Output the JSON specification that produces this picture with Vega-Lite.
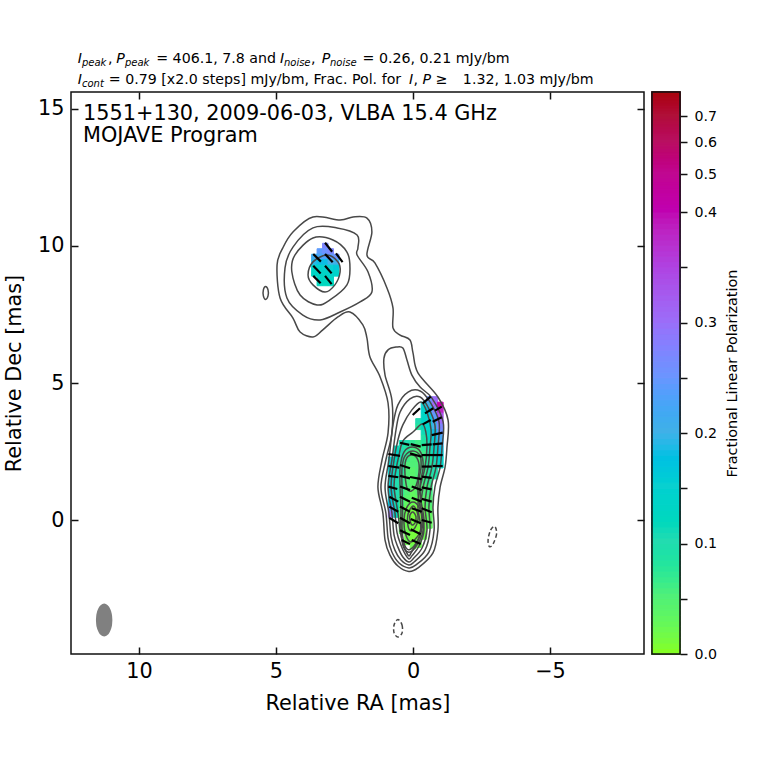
{
"$schema":"https://vega.github.io/schema/vega-lite/v6.json",
"padding":{"left":2,"top":51,"right":0,"bottom":0},
"background":"white",
"config":{"font":"DejaVu Sans","view":{"stroke":"#111","strokeWidth":1.5},"axis":{"labelFont":"DejaVu Sans","titleFont":"DejaVu Sans","grid":false,"domain":false,"labelColor":"#000","titleColor":"#000"}},
"datasets":{
"contours":[
{"k":"a1","i":0,"ra":0.47,"dec":6.75},{"k":"a1","i":1,"ra":0.11,"dec":6.57},{"k":"a1","i":2,"ra":0,"dec":6.10},{"k":"a1","i":3,"ra":-0.18,"dec":5.37},{"k":"a1","i":4,"ra":-0.91,"dec":4.49},{"k":"a1","i":5,"ra":-1.28,"dec":3.65},{"k":"a1","i":6,"ra":-1.24,"dec":2.66},{"k":"a1","i":7,"ra":-1.17,"dec":1.93},{"k":"a1","i":8,"ra":-0.99,"dec":1.20},{"k":"a1","i":9,"ra":-0.91,"dec":0.47},{"k":"a1","i":10,"ra":-0.91,"dec":-0.37},{"k":"a1","i":11,"ra":-0.73,"dec":-1.20},{"k":"a1","i":12,"ra":-0.18,"dec":-1.75},{"k":"a1","i":13,"ra":0.15,"dec":-1.88},{"k":"a1","i":14,"ra":0.55,"dec":-1.68},{"k":"a1","i":15,"ra":0.84,"dec":-1.28},{"k":"a1","i":16,"ra":1.02,"dec":-0.73},{"k":"a1","i":17,"ra":1.10,"dec":0.26},{"k":"a1","i":18,"ra":1.28,"dec":1.20},{"k":"a1","i":19,"ra":1.13,"dec":2.19},{"k":"a1","i":20,"ra":0.91,"dec":3.18},{"k":"a1","i":21,"ra":0.91,"dec":4.27},{"k":"a1","i":22,"ra":1.20,"dec":5.22},{"k":"a1","i":23,"ra":1.57,"dec":5.95},{"k":"a1","i":24,"ra":1.68,"dec":6.64},{"k":"a1","i":25,"ra":1.83,"dec":7.12},{"k":"a1","i":26,"ra":2.30,"dec":7.59},{"k":"a1","i":27,"ra":2.74,"dec":7.41},{"k":"a1","i":28,"ra":3.29,"dec":6.94},{"k":"a1","i":29,"ra":3.65,"dec":6.68},{"k":"a1","i":30,"ra":4.12,"dec":6.86},{"k":"a1","i":31,"ra":4.38,"dec":7.37},{"k":"a1","i":32,"ra":4.85,"dec":8.10},{"k":"a1","i":33,"ra":4.96,"dec":9.31},{"k":"a1","i":34,"ra":4.75,"dec":9.93},{"k":"a1","i":35,"ra":4.38,"dec":10.51},{"k":"a1","i":36,"ra":3.65,"dec":11.06},{"k":"a1","i":37,"ra":2.66,"dec":10.95},{"k":"a1","i":38,"ra":2.19,"dec":11.06},{"k":"a1","i":39,"ra":1.68,"dec":11.02},{"k":"a1","i":40,"ra":1.50,"dec":10.51},{"k":"a1","i":41,"ra":1.68,"dec":9.67},{"k":"a1","i":42,"ra":1.39,"dec":9.38},{"k":"a1","i":43,"ra":0.95,"dec":8.47},{"k":"a1","i":44,"ra":0.73,"dec":7.74},{"k":"a1","i":45,"ra":0.73,"dec":7.01},
{"k":"b2","i":0,"ra":3.39,"dec":7.30},{"k":"b2","i":1,"ra":4.02,"dec":7.48},{"k":"b2","i":2,"ra":4.60,"dec":8.10},{"k":"b2","i":3,"ra":4.67,"dec":9.20},{"k":"b2","i":4,"ra":4.38,"dec":9.96},{"k":"b2","i":5,"ra":3.65,"dec":10.66},{"k":"b2","i":6,"ra":2.77,"dec":10.66},{"k":"b2","i":7,"ra":2.04,"dec":10.40},{"k":"b2","i":8,"ra":2.01,"dec":9.93},{"k":"b2","i":9,"ra":2.04,"dec":9.67},{"k":"b2","i":10,"ra":1.64,"dec":9.05},{"k":"b2","i":11,"ra":1.50,"dec":8.32},{"k":"b2","i":12,"ra":1.93,"dec":7.96},{"k":"b2","i":13,"ra":2.66,"dec":7.59},
{"k":"b3","i":0,"ra":4.42,"dec":9.05},{"k":"b3","i":1,"ra":4.31,"dec":9.67},{"k":"b3","i":2,"ra":3.65,"dec":10.29},{"k":"b3","i":3,"ra":2.92,"dec":10.22},{"k":"b3","i":4,"ra":2.41,"dec":9.78},{"k":"b3","i":5,"ra":2.30,"dec":9.20},{"k":"b3","i":6,"ra":2.41,"dec":8.58},{"k":"b3","i":7,"ra":3.03,"dec":8.03},{"k":"b3","i":8,"ra":3.50,"dec":7.85},{"k":"b3","i":9,"ra":4.12,"dec":8.21},
{"k":"b4","i":0,"ra":3.83,"dec":8.94},{"k":"b4","i":1,"ra":3.65,"dec":9.42},{"k":"b4","i":2,"ra":3.14,"dec":9.67},{"k":"b4","i":3,"ra":2.74,"dec":9.42},{"k":"b4","i":4,"ra":2.66,"dec":9.05},{"k":"b4","i":5,"ra":2.85,"dec":8.58},{"k":"b4","i":6,"ra":3.21,"dec":8.32},{"k":"b4","i":7,"ra":3.65,"dec":8.58},
{"k":"is","i":0,"ra":5.38,"dec":8.52},{"k":"is","i":1,"ra":5.29,"dec":8.40},{"k":"is","i":2,"ra":5.29,"dec":8.18},{"k":"is","i":3,"ra":5.38,"dec":8.05},{"k":"is","i":4,"ra":5.46,"dec":8.18},{"k":"is","i":5,"ra":5.46,"dec":8.40},
{"k":"j2","i":0,"ra":0.62,"dec":6.31},{"k":"j2","i":1,"ra":0.37,"dec":6.28},{"k":"j2","i":2,"ra":0.22,"dec":5.84},{"k":"j2","i":3,"ra":0.04,"dec":5.29},{"k":"j2","i":4,"ra":-0.26,"dec":4.85},{"k":"j2","i":5,"ra":-0.69,"dec":4.45},{"k":"j2","i":6,"ra":-1.10,"dec":3.58},{"k":"j2","i":7,"ra":-1.06,"dec":2.66},{"k":"j2","i":8,"ra":-0.99,"dec":1.93},{"k":"j2","i":9,"ra":-0.80,"dec":1.20},{"k":"j2","i":10,"ra":-0.73,"dec":0.47},{"k":"j2","i":11,"ra":-0.77,"dec":-0.37},{"k":"j2","i":12,"ra":-0.58,"dec":-1.17},{"k":"j2","i":13,"ra":-0.11,"dec":-1.64},{"k":"j2","i":14,"ra":0.15,"dec":-1.75},{"k":"j2","i":15,"ra":0.51,"dec":-1.57},{"k":"j2","i":16,"ra":0.77,"dec":-1.17},{"k":"j2","i":17,"ra":0.91,"dec":-0.66},{"k":"j2","i":18,"ra":0.99,"dec":0.26},{"k":"j2","i":19,"ra":1.17,"dec":1.20},{"k":"j2","i":20,"ra":0.99,"dec":2.19},{"k":"j2","i":21,"ra":0.77,"dec":3.18},{"k":"j2","i":22,"ra":0.77,"dec":4.38},{"k":"j2","i":23,"ra":1.02,"dec":5.29},{"k":"j2","i":24,"ra":1.06,"dec":5.91},{"k":"j2","i":25,"ra":0.91,"dec":6.21},
{"k":"j3","i":0,"ra":0.73,"dec":3.47},{"k":"j3","i":1,"ra":0.55,"dec":4.20},{"k":"j3","i":2,"ra":0.18,"dec":4.67},{"k":"j3","i":3,"ra":-0.26,"dec":4.71},{"k":"j3","i":4,"ra":-0.62,"dec":4.31},{"k":"j3","i":5,"ra":-0.95,"dec":3.58},{"k":"j3","i":6,"ra":-0.91,"dec":2.66},{"k":"j3","i":7,"ra":-0.84,"dec":1.93},{"k":"j3","i":8,"ra":-0.66,"dec":1.20},{"k":"j3","i":9,"ra":-0.58,"dec":0.47},{"k":"j3","i":10,"ra":-0.62,"dec":-0.37},{"k":"j3","i":11,"ra":-0.44,"dec":-1.10},{"k":"j3","i":12,"ra":-0.04,"dec":-1.53},{"k":"j3","i":13,"ra":0.15,"dec":-1.64},{"k":"j3","i":14,"ra":0.44,"dec":-1.46},{"k":"j3","i":15,"ra":0.66,"dec":-1.10},{"k":"j3","i":16,"ra":0.80,"dec":-0.62},{"k":"j3","i":17,"ra":0.88,"dec":0.26},{"k":"j3","i":18,"ra":1.02,"dec":1.20},{"k":"j3","i":19,"ra":0.88,"dec":2.19},
{"k":"j4","i":0,"ra":0.62,"dec":3.29},{"k":"j4","i":1,"ra":0.47,"dec":3.94},{"k":"j4","i":2,"ra":0.11,"dec":4.42},{"k":"j4","i":3,"ra":-0.26,"dec":4.49},{"k":"j4","i":4,"ra":-0.55,"dec":4.12},{"k":"j4","i":5,"ra":-0.80,"dec":3.47},{"k":"j4","i":6,"ra":-0.77,"dec":2.66},{"k":"j4","i":7,"ra":-0.69,"dec":1.93},{"k":"j4","i":8,"ra":-0.51,"dec":1.20},{"k":"j4","i":9,"ra":-0.44,"dec":0.47},{"k":"j4","i":10,"ra":-0.51,"dec":-0.37},{"k":"j4","i":11,"ra":-0.33,"dec":-1.02},{"k":"j4","i":12,"ra":0,"dec":-1.42},{"k":"j4","i":13,"ra":0.15,"dec":-1.53},{"k":"j4","i":14,"ra":0.37,"dec":-1.35},{"k":"j4","i":15,"ra":0.55,"dec":-0.99},{"k":"j4","i":16,"ra":0.69,"dec":-0.55},{"k":"j4","i":17,"ra":0.77,"dec":0.26},{"k":"j4","i":18,"ra":0.91,"dec":1.20},{"k":"j4","i":19,"ra":0.77,"dec":2.19},
{"k":"j5","i":0,"ra":0.55,"dec":2.92},{"k":"j5","i":1,"ra":0.37,"dec":3.47},{"k":"j5","i":2,"ra":0.04,"dec":4.02},{"k":"j5","i":3,"ra":-0.29,"dec":4.31},{"k":"j5","i":4,"ra":-0.51,"dec":3.94},{"k":"j5","i":5,"ra":-0.66,"dec":3.29},{"k":"j5","i":6,"ra":-0.62,"dec":2.66},{"k":"j5","i":7,"ra":-0.55,"dec":1.93},{"k":"j5","i":8,"ra":-0.37,"dec":1.20},{"k":"j5","i":9,"ra":-0.29,"dec":0.47},{"k":"j5","i":10,"ra":-0.40,"dec":-0.37},{"k":"j5","i":11,"ra":-0.22,"dec":-0.95},{"k":"j5","i":12,"ra":0.04,"dec":-1.31},{"k":"j5","i":13,"ra":0.15,"dec":-1.42},{"k":"j5","i":14,"ra":0.29,"dec":-1.24},{"k":"j5","i":15,"ra":0.44,"dec":-0.91},{"k":"j5","i":16,"ra":0.58,"dec":-0.47},{"k":"j5","i":17,"ra":0.66,"dec":0.26},{"k":"j5","i":18,"ra":0.80,"dec":1.20},{"k":"j5","i":19,"ra":0.69,"dec":2.19},
{"k":"j6","i":0,"ra":0.51,"dec":2.37},{"k":"j6","i":1,"ra":0.37,"dec":2.88},{"k":"j6","i":2,"ra":0,"dec":3.21},{"k":"j6","i":3,"ra":-0.33,"dec":3.50},{"k":"j6","i":4,"ra":-0.47,"dec":3.21},{"k":"j6","i":5,"ra":-0.51,"dec":2.66},{"k":"j6","i":6,"ra":-0.44,"dec":1.93},{"k":"j6","i":7,"ra":-0.26,"dec":1.20},{"k":"j6","i":8,"ra":-0.18,"dec":0.47},{"k":"j6","i":9,"ra":-0.29,"dec":-0.37},{"k":"j6","i":10,"ra":-0.11,"dec":-0.88},{"k":"j6","i":11,"ra":0.07,"dec":-1.20},{"k":"j6","i":12,"ra":0.15,"dec":-1.31},{"k":"j6","i":13,"ra":0.26,"dec":-1.13},{"k":"j6","i":14,"ra":0.37,"dec":-0.84},{"k":"j6","i":15,"ra":0.47,"dec":-0.40},{"k":"j6","i":16,"ra":0.55,"dec":0.26},{"k":"j6","i":17,"ra":0.69,"dec":1.20},{"k":"j6","i":18,"ra":0.62,"dec":1.83},
{"k":"j7","i":0,"ra":0,"dec":2.66},{"k":"j7","i":1,"ra":-0.29,"dec":2.45},{"k":"j7","i":2,"ra":-0.37,"dec":1.93},{"k":"j7","i":3,"ra":-0.26,"dec":1.28},{"k":"j7","i":4,"ra":-0.29,"dec":0.73},{"k":"j7","i":5,"ra":-0.40,"dec":0},{"k":"j7","i":6,"ra":-0.33,"dec":-0.55},{"k":"j7","i":7,"ra":-0.07,"dec":-1.02},{"k":"j7","i":8,"ra":0.18,"dec":-1.17},{"k":"j7","i":9,"ra":0.37,"dec":-0.91},{"k":"j7","i":10,"ra":0.44,"dec":-0.29},{"k":"j7","i":11,"ra":0.44,"dec":0.37},{"k":"j7","i":12,"ra":0.47,"dec":1.17},{"k":"j7","i":13,"ra":0.47,"dec":1.90},{"k":"j7","i":14,"ra":0.33,"dec":2.48},
{"k":"j7b","i":0,"ra":0,"dec":2.52},{"k":"j7b","i":1,"ra":-0.26,"dec":2.34},{"k":"j7b","i":2,"ra":-0.29,"dec":1.90},{"k":"j7b","i":3,"ra":-0.18,"dec":1.24},{"k":"j7b","i":4,"ra":-0.22,"dec":0.66},{"k":"j7b","i":5,"ra":-0.37,"dec":0},{"k":"j7b","i":6,"ra":-0.26,"dec":-0.55},{"k":"j7b","i":7,"ra":-0.04,"dec":-0.95},{"k":"j7b","i":8,"ra":0.18,"dec":-1.08},{"k":"j7b","i":9,"ra":0.33,"dec":-0.84},{"k":"j7b","i":10,"ra":0.40,"dec":-0.29},{"k":"j7b","i":11,"ra":0.38,"dec":0.37},{"k":"j7b","i":12,"ra":0.40,"dec":1.17},{"k":"j7b","i":13,"ra":0.40,"dec":1.90},{"k":"j7b","i":14,"ra":0.29,"dec":2.34},
{"k":"j8","i":0,"ra":0,"dec":0.66},{"k":"j8","i":1,"ra":-0.22,"dec":0.47},{"k":"j8","i":2,"ra":-0.33,"dec":0},{"k":"j8","i":3,"ra":-0.22,"dec":-0.51},{"k":"j8","i":4,"ra":0.07,"dec":-0.80},{"k":"j8","i":5,"ra":0.26,"dec":-0.55},{"k":"j8","i":6,"ra":0.33,"dec":0},{"k":"j8","i":7,"ra":0.22,"dec":0.47},
{"k":"j8b","i":0,"ra":0.04,"dec":2.37},{"k":"j8b","i":1,"ra":-0.18,"dec":2.19},{"k":"j8b","i":2,"ra":-0.22,"dec":1.75},{"k":"j8b","i":3,"ra":-0.07,"dec":1.17},{"k":"j8b","i":4,"ra":0.18,"dec":1.09},{"k":"j8b","i":5,"ra":0.29,"dec":1.64},{"k":"j8b","i":6,"ra":0.26,"dec":2.19},
{"k":"j9","i":0,"ra":0,"dec":0.51},{"k":"j9","i":1,"ra":-0.15,"dec":0.29},{"k":"j9","i":2,"ra":-0.18,"dec":0},{"k":"j9","i":3,"ra":-0.07,"dec":-0.29},{"k":"j9","i":4,"ra":0.07,"dec":-0.40},{"k":"j9","i":5,"ra":0.18,"dec":-0.22},{"k":"j9","i":6,"ra":0.18,"dec":0.22},
{"k":"j10","i":0,"ra":0,"dec":0.29},{"k":"j10","i":1,"ra":-0.11,"dec":0.11},{"k":"j10","i":2,"ra":-0.07,"dec":-0.11},{"k":"j10","i":3,"ra":0.04,"dec":-0.18},{"k":"j10","i":4,"ra":0.11,"dec":0},{"k":"j10","i":5,"ra":0.11,"dec":0.18}
],
"negative":[
{"k":"n1","i":0,"ra":-2.99,"dec":-0.24},{"k":"n1","i":1,"ra":-3.05,"dec":-0.51},{"k":"n1","i":2,"ra":-2.92,"dec":-0.88},{"k":"n1","i":3,"ra":-2.79,"dec":-0.97},{"k":"n1","i":4,"ra":-2.74,"dec":-0.73},{"k":"n1","i":5,"ra":-2.83,"dec":-0.37},
{"k":"n2","i":0,"ra":0.55,"dec":-3.63},{"k":"n2","i":1,"ra":0.40,"dec":-3.83},{"k":"n2","i":2,"ra":0.40,"dec":-4.12},{"k":"n2","i":3,"ra":0.55,"dec":-4.27},{"k":"n2","i":4,"ra":0.69,"dec":-4.12},{"k":"n2","i":5,"ra":0.69,"dec":-3.83}
],
"cells":[
{"ra":-0.5,"ra2":-0.7,"dec":4.5,"dec2":4.3,"f":0.25},{"ra":-0.7,"ra2":-0.9,"dec":4.5,"dec2":4.3,"f":0.30},
{"ra":-0.3,"ra2":-0.5,"dec":4.3,"dec2":4.1,"f":0.15},{"ra":-0.5,"ra2":-0.7,"dec":4.3,"dec2":4.1,"f":0.20},{"ra":-0.7,"ra2":-0.9,"dec":4.3,"dec2":4.1,"f":0.30},{"ra":-0.9,"ra2":-1.1,"dec":4.3,"dec2":4.1,"f":0.42},
{"ra":-0.3,"ra2":-0.5,"dec":4.1,"dec2":3.9,"f":0.14},{"ra":-0.5,"ra2":-0.7,"dec":4.1,"dec2":3.9,"f":0.18},{"ra":-0.7,"ra2":-0.9,"dec":4.1,"dec2":3.9,"f":0.27},{"ra":-0.9,"ra2":-1.1,"dec":4.1,"dec2":3.9,"f":0.38},
{"ra":-0.3,"ra2":-0.5,"dec":3.9,"dec2":3.7,"f":0.13},{"ra":-0.5,"ra2":-0.7,"dec":3.9,"dec2":3.7,"f":0.16},{"ra":-0.7,"ra2":-0.9,"dec":3.9,"dec2":3.7,"f":0.24},{"ra":-0.9,"ra2":-1.1,"dec":3.9,"dec2":3.7,"f":0.33},
{"ra":-0.1,"ra2":-0.3,"dec":3.7,"dec2":3.5,"f":0.10},{"ra":-0.3,"ra2":-0.5,"dec":3.7,"dec2":3.5,"f":0.13},{"ra":-0.5,"ra2":-0.7,"dec":3.7,"dec2":3.5,"f":0.15},{"ra":-0.7,"ra2":-0.9,"dec":3.7,"dec2":3.5,"f":0.22},{"ra":-0.9,"ra2":-1.1,"dec":3.7,"dec2":3.5,"f":0.30},
{"ra":-0.1,"ra2":-0.3,"dec":3.5,"dec2":3.3,"f":0.08},{"ra":-0.3,"ra2":-0.5,"dec":3.5,"dec2":3.3,"f":0.12},{"ra":-0.5,"ra2":-0.7,"dec":3.5,"dec2":3.3,"f":0.14},{"ra":-0.7,"ra2":-0.9,"dec":3.5,"dec2":3.3,"f":0.20},{"ra":-0.9,"ra2":-1.1,"dec":3.5,"dec2":3.3,"f":0.27},
{"ra":-0.3,"ra2":-0.5,"dec":3.3,"dec2":3.1,"f":0.11},{"ra":-0.5,"ra2":-0.7,"dec":3.3,"dec2":3.1,"f":0.13},{"ra":-0.7,"ra2":-0.9,"dec":3.3,"dec2":3.1,"f":0.18},{"ra":-0.9,"ra2":-1.1,"dec":3.3,"dec2":3.1,"f":0.25},
{"ra":-0.3,"ra2":-0.5,"dec":3.1,"dec2":2.9,"f":0.09},{"ra":-0.5,"ra2":-0.7,"dec":3.1,"dec2":2.9,"f":0.12},{"ra":-0.7,"ra2":-0.9,"dec":3.1,"dec2":2.9,"f":0.16},{"ra":-0.9,"ra2":-1.1,"dec":3.1,"dec2":2.9,"f":0.22},
{"ra":0.5,"ra2":0.3,"dec":2.9,"dec2":2.7,"f":0.11},{"ra":0.3,"ra2":0.1,"dec":2.9,"dec2":2.7,"f":0.10},{"ra":0.1,"ra2":-0.1,"dec":2.9,"dec2":2.7,"f":0.07},{"ra":-0.1,"ra2":-0.3,"dec":2.9,"dec2":2.7,"f":0.06},{"ra":-0.3,"ra2":-0.5,"dec":2.9,"dec2":2.7,"f":0.08},{"ra":-0.5,"ra2":-0.7,"dec":2.9,"dec2":2.7,"f":0.11},{"ra":-0.7,"ra2":-0.9,"dec":2.9,"dec2":2.7,"f":0.15},{"ra":-0.9,"ra2":-1.1,"dec":2.9,"dec2":2.7,"f":0.20},
{"ra":0.7,"ra2":0.5,"dec":2.7,"dec2":2.5,"f":0.12},{"ra":0.5,"ra2":0.3,"dec":2.7,"dec2":2.5,"f":0.10},{"ra":0.3,"ra2":0.1,"dec":2.7,"dec2":2.5,"f":0.08},{"ra":0.1,"ra2":-0.1,"dec":2.7,"dec2":2.5,"f":0.06},{"ra":-0.1,"ra2":-0.3,"dec":2.7,"dec2":2.5,"f":0.05},{"ra":-0.3,"ra2":-0.5,"dec":2.7,"dec2":2.5,"f":0.07},{"ra":-0.5,"ra2":-0.7,"dec":2.7,"dec2":2.5,"f":0.10},{"ra":-0.7,"ra2":-0.9,"dec":2.7,"dec2":2.5,"f":0.13},{"ra":-0.9,"ra2":-1.1,"dec":2.7,"dec2":2.5,"f":0.18},
{"ra":0.7,"ra2":0.5,"dec":2.5,"dec2":2.3,"f":0.13},{"ra":0.5,"ra2":0.3,"dec":2.5,"dec2":2.3,"f":0.10},{"ra":0.3,"ra2":0.1,"dec":2.5,"dec2":2.3,"f":0.07},{"ra":0.1,"ra2":-0.1,"dec":2.5,"dec2":2.3,"f":0.05},{"ra":-0.1,"ra2":-0.3,"dec":2.5,"dec2":2.3,"f":0.05},{"ra":-0.3,"ra2":-0.5,"dec":2.5,"dec2":2.3,"f":0.06},{"ra":-0.5,"ra2":-0.7,"dec":2.5,"dec2":2.3,"f":0.09},{"ra":-0.7,"ra2":-0.9,"dec":2.5,"dec2":2.3,"f":0.12},{"ra":-0.9,"ra2":-1.1,"dec":2.5,"dec2":2.3,"f":0.16},
{"ra":0.9,"ra2":0.7,"dec":2.3,"dec2":2.1,"f":0.15},{"ra":0.7,"ra2":0.5,"dec":2.3,"dec2":2.1,"f":0.12},{"ra":0.5,"ra2":0.3,"dec":2.3,"dec2":2.1,"f":0.09},{"ra":0.3,"ra2":0.1,"dec":2.3,"dec2":2.1,"f":0.06},{"ra":0.1,"ra2":-0.1,"dec":2.3,"dec2":2.1,"f":0.05},{"ra":-0.1,"ra2":-0.3,"dec":2.3,"dec2":2.1,"f":0.05},{"ra":-0.3,"ra2":-0.5,"dec":2.3,"dec2":2.1,"f":0.06},{"ra":-0.5,"ra2":-0.7,"dec":2.3,"dec2":2.1,"f":0.08},{"ra":-0.7,"ra2":-0.9,"dec":2.3,"dec2":2.1,"f":0.11},{"ra":-0.9,"ra2":-1.1,"dec":2.3,"dec2":2.1,"f":0.14},
{"ra":0.9,"ra2":0.7,"dec":2.1,"dec2":1.9,"f":0.15},{"ra":0.7,"ra2":0.5,"dec":2.1,"dec2":1.9,"f":0.11},{"ra":0.5,"ra2":0.3,"dec":2.1,"dec2":1.9,"f":0.08},{"ra":0.3,"ra2":0.1,"dec":2.1,"dec2":1.9,"f":0.05},{"ra":0.1,"ra2":-0.1,"dec":2.1,"dec2":1.9,"f":0.05},{"ra":-0.1,"ra2":-0.3,"dec":2.1,"dec2":1.9,"f":0.05},{"ra":-0.3,"ra2":-0.5,"dec":2.1,"dec2":1.9,"f":0.06},{"ra":-0.5,"ra2":-0.7,"dec":2.1,"dec2":1.9,"f":0.08},{"ra":-0.7,"ra2":-0.9,"dec":2.1,"dec2":1.9,"f":0.10},{"ra":-0.9,"ra2":-1.1,"dec":2.1,"dec2":1.9,"f":0.13},
{"ra":0.9,"ra2":0.7,"dec":1.9,"dec2":1.7,"f":0.15},{"ra":0.7,"ra2":0.5,"dec":1.9,"dec2":1.7,"f":0.11},{"ra":0.5,"ra2":0.3,"dec":1.9,"dec2":1.7,"f":0.08},{"ra":0.3,"ra2":0.1,"dec":1.9,"dec2":1.7,"f":0.05},{"ra":0.1,"ra2":-0.1,"dec":1.9,"dec2":1.7,"f":0.04},{"ra":-0.1,"ra2":-0.3,"dec":1.9,"dec2":1.7,"f":0.05},{"ra":-0.3,"ra2":-0.5,"dec":1.9,"dec2":1.7,"f":0.06},{"ra":-0.5,"ra2":-0.7,"dec":1.9,"dec2":1.7,"f":0.08},{"ra":-0.7,"ra2":-0.9,"dec":1.9,"dec2":1.7,"f":0.10},
{"ra":0.9,"ra2":0.7,"dec":1.7,"dec2":1.5,"f":0.15},{"ra":0.7,"ra2":0.5,"dec":1.7,"dec2":1.5,"f":0.11},{"ra":0.5,"ra2":0.3,"dec":1.7,"dec2":1.5,"f":0.07},{"ra":0.3,"ra2":0.1,"dec":1.7,"dec2":1.5,"f":0.05},{"ra":0.1,"ra2":-0.1,"dec":1.7,"dec2":1.5,"f":0.04},{"ra":-0.1,"ra2":-0.3,"dec":1.7,"dec2":1.5,"f":0.05},{"ra":-0.3,"ra2":-0.5,"dec":1.7,"dec2":1.5,"f":0.06},{"ra":-0.5,"ra2":-0.7,"dec":1.7,"dec2":1.5,"f":0.08},{"ra":-0.7,"ra2":-0.9,"dec":1.7,"dec2":1.5,"f":0.09},
{"ra":0.9,"ra2":0.7,"dec":1.5,"dec2":1.3,"f":0.15},{"ra":0.7,"ra2":0.5,"dec":1.5,"dec2":1.3,"f":0.10},{"ra":0.5,"ra2":0.3,"dec":1.5,"dec2":1.3,"f":0.07},{"ra":0.3,"ra2":0.1,"dec":1.5,"dec2":1.3,"f":0.05},{"ra":0.1,"ra2":-0.1,"dec":1.5,"dec2":1.3,"f":0.04},{"ra":-0.1,"ra2":-0.3,"dec":1.5,"dec2":1.3,"f":0.05},{"ra":-0.3,"ra2":-0.5,"dec":1.5,"dec2":1.3,"f":0.06},{"ra":-0.5,"ra2":-0.7,"dec":1.5,"dec2":1.3,"f":0.07},
{"ra":0.9,"ra2":0.7,"dec":1.3,"dec2":1.1,"f":0.15},{"ra":0.7,"ra2":0.5,"dec":1.3,"dec2":1.1,"f":0.10},{"ra":0.5,"ra2":0.3,"dec":1.3,"dec2":1.1,"f":0.07},{"ra":0.3,"ra2":0.1,"dec":1.3,"dec2":1.1,"f":0.05},{"ra":0.1,"ra2":-0.1,"dec":1.3,"dec2":1.1,"f":0.04},{"ra":-0.1,"ra2":-0.3,"dec":1.3,"dec2":1.1,"f":0.04},{"ra":-0.3,"ra2":-0.5,"dec":1.3,"dec2":1.1,"f":0.05},{"ra":-0.5,"ra2":-0.7,"dec":1.3,"dec2":1.1,"f":0.06},
{"ra":0.9,"ra2":0.7,"dec":1.1,"dec2":0.9,"f":0.16},{"ra":0.7,"ra2":0.5,"dec":1.1,"dec2":0.9,"f":0.10},{"ra":0.5,"ra2":0.3,"dec":1.1,"dec2":0.9,"f":0.07},{"ra":0.3,"ra2":0.1,"dec":1.1,"dec2":0.9,"f":0.05},{"ra":0.1,"ra2":-0.1,"dec":1.1,"dec2":0.9,"f":0.03},{"ra":-0.1,"ra2":-0.3,"dec":1.1,"dec2":0.9,"f":0.04},{"ra":-0.3,"ra2":-0.5,"dec":1.1,"dec2":0.9,"f":0.05},{"ra":-0.5,"ra2":-0.7,"dec":1.1,"dec2":0.9,"f":0.06},
{"ra":0.9,"ra2":0.7,"dec":0.9,"dec2":0.7,"f":0.16},{"ra":0.7,"ra2":0.5,"dec":0.9,"dec2":0.7,"f":0.10},{"ra":0.5,"ra2":0.3,"dec":0.9,"dec2":0.7,"f":0.06},{"ra":0.3,"ra2":0.1,"dec":0.9,"dec2":0.7,"f":0.04},{"ra":0.1,"ra2":-0.1,"dec":0.9,"dec2":0.7,"f":0.03},{"ra":-0.1,"ra2":-0.3,"dec":0.9,"dec2":0.7,"f":0.03},{"ra":-0.3,"ra2":-0.5,"dec":0.9,"dec2":0.7,"f":0.04},{"ra":-0.5,"ra2":-0.7,"dec":0.9,"dec2":0.7,"f":0.05},
{"ra":0.9,"ra2":0.7,"dec":0.7,"dec2":0.5,"f":0.17},{"ra":0.7,"ra2":0.5,"dec":0.7,"dec2":0.5,"f":0.11},{"ra":0.5,"ra2":0.3,"dec":0.7,"dec2":0.5,"f":0.06},{"ra":0.3,"ra2":0.1,"dec":0.7,"dec2":0.5,"f":0.03},{"ra":0.1,"ra2":-0.1,"dec":0.7,"dec2":0.5,"f":0.02},{"ra":-0.1,"ra2":-0.3,"dec":0.7,"dec2":0.5,"f":0.02},{"ra":-0.3,"ra2":-0.5,"dec":0.7,"dec2":0.5,"f":0.03},{"ra":-0.5,"ra2":-0.7,"dec":0.7,"dec2":0.5,"f":0.05},
{"ra":0.9,"ra2":0.7,"dec":0.5,"dec2":0.3,"f":0.25},{"ra":0.7,"ra2":0.5,"dec":0.5,"dec2":0.3,"f":0.12},{"ra":0.5,"ra2":0.3,"dec":0.5,"dec2":0.3,"f":0.05},{"ra":0.3,"ra2":0.1,"dec":0.5,"dec2":0.3,"f":0.02},{"ra":0.1,"ra2":-0.1,"dec":0.5,"dec2":0.3,"f":0.01},{"ra":-0.1,"ra2":-0.3,"dec":0.5,"dec2":0.3,"f":0.01},{"ra":-0.3,"ra2":-0.5,"dec":0.5,"dec2":0.3,"f":0.02},{"ra":-0.5,"ra2":-0.7,"dec":0.5,"dec2":0.3,"f":0.04},
{"ra":0.9,"ra2":0.7,"dec":0.3,"dec2":0.1,"f":0.30},{"ra":0.7,"ra2":0.5,"dec":0.3,"dec2":0.1,"f":0.12},{"ra":0.5,"ra2":0.3,"dec":0.3,"dec2":0.1,"f":0.04},{"ra":0.3,"ra2":0.1,"dec":0.3,"dec2":0.1,"f":0.02},{"ra":0.1,"ra2":-0.1,"dec":0.3,"dec2":0.1,"f":0.01},{"ra":-0.1,"ra2":-0.3,"dec":0.3,"dec2":0.1,"f":0.01},{"ra":-0.3,"ra2":-0.5,"dec":0.3,"dec2":0.1,"f":0.02},{"ra":-0.5,"ra2":-0.7,"dec":0.3,"dec2":0.1,"f":0.03},
{"ra":0.5,"ra2":0.3,"dec":0.1,"dec2":-0.1,"f":0.03},{"ra":0.3,"ra2":0.1,"dec":0.1,"dec2":-0.1,"f":0.02},{"ra":0.1,"ra2":-0.1,"dec":0.1,"dec2":-0.1,"f":0.01},{"ra":-0.1,"ra2":-0.3,"dec":0.1,"dec2":-0.1,"f":0.01},{"ra":-0.3,"ra2":-0.5,"dec":0.1,"dec2":-0.1,"f":0.02},{"ra":-0.5,"ra2":-0.7,"dec":0.1,"dec2":-0.1,"f":0.03},
{"ra":0.5,"ra2":0.3,"dec":-0.1,"dec2":-0.3,"f":0.03},{"ra":0.3,"ra2":0.1,"dec":-0.1,"dec2":-0.3,"f":0.02},{"ra":0.1,"ra2":-0.1,"dec":-0.1,"dec2":-0.3,"f":0.01},{"ra":-0.1,"ra2":-0.3,"dec":-0.1,"dec2":-0.3,"f":0.01},{"ra":-0.3,"ra2":-0.5,"dec":-0.1,"dec2":-0.3,"f":0.02},{"ra":-0.5,"ra2":-0.7,"dec":-0.1,"dec2":-0.3,"f":0.03},
{"ra":0.5,"ra2":0.3,"dec":-0.3,"dec2":-0.5,"f":0.03},{"ra":0.3,"ra2":0.1,"dec":-0.3,"dec2":-0.5,"f":0.02},{"ra":0.1,"ra2":-0.1,"dec":-0.3,"dec2":-0.5,"f":0.01},{"ra":-0.1,"ra2":-0.3,"dec":-0.3,"dec2":-0.5,"f":0.01},{"ra":-0.3,"ra2":-0.5,"dec":-0.3,"dec2":-0.5,"f":0.02},
{"ra":0.3,"ra2":0.1,"dec":-0.5,"dec2":-0.7,"f":0.02},{"ra":0.1,"ra2":-0.1,"dec":-0.5,"dec2":-0.7,"f":0.01},{"ra":-0.1,"ra2":-0.3,"dec":-0.5,"dec2":-0.7,"f":0.01},{"ra":-0.3,"ra2":-0.5,"dec":-0.5,"dec2":-0.7,"f":0.02},
{"ra":0.3,"ra2":0.1,"dec":-0.7,"dec2":-0.9,"f":0.02},{"ra":0.1,"ra2":-0.1,"dec":-0.7,"dec2":-0.9,"f":0.01},{"ra":-0.1,"ra2":-0.3,"dec":-0.7,"dec2":-0.9,"f":0.02},
{"ra":0.1,"ra2":-0.1,"dec":-0.9,"dec2":-1.05,"f":0.02},{"ra":-0.1,"ra2":-0.3,"dec":-0.9,"dec2":-1.0,"f":0.02},
{"ra":3.3,"ra2":3.1,"dec":10.1,"dec2":9.9,"f":0.27},
{"ra":3.5,"ra2":3.3,"dec":9.9,"dec2":9.7,"f":0.24},{"ra":3.3,"ra2":3.1,"dec":9.9,"dec2":9.7,"f":0.25},{"ra":3.1,"ra2":2.9,"dec":9.9,"dec2":9.7,"f":0.27},
{"ra":3.7,"ra2":3.5,"dec":9.7,"dec2":9.5,"f":0.21},{"ra":3.5,"ra2":3.3,"dec":9.7,"dec2":9.5,"f":0.22},{"ra":3.3,"ra2":3.1,"dec":9.7,"dec2":9.5,"f":0.23},{"ra":3.1,"ra2":2.9,"dec":9.7,"dec2":9.5,"f":0.24},{"ra":2.9,"ra2":2.7,"dec":9.7,"dec2":9.5,"f":0.25},
{"ra":3.7,"ra2":3.5,"dec":9.5,"dec2":9.3,"f":0.19},{"ra":3.5,"ra2":3.3,"dec":9.5,"dec2":9.3,"f":0.18},{"ra":3.3,"ra2":3.1,"dec":9.5,"dec2":9.3,"f":0.18},{"ra":3.1,"ra2":2.9,"dec":9.5,"dec2":9.3,"f":0.20},{"ra":2.9,"ra2":2.7,"dec":9.5,"dec2":9.3,"f":0.20},
{"ra":3.7,"ra2":3.5,"dec":9.3,"dec2":9.1,"f":0.14},{"ra":3.5,"ra2":3.3,"dec":9.3,"dec2":9.1,"f":0.14},{"ra":3.3,"ra2":3.1,"dec":9.3,"dec2":9.1,"f":0.15},{"ra":3.1,"ra2":2.9,"dec":9.3,"dec2":9.1,"f":0.15},{"ra":2.9,"ra2":2.7,"dec":9.3,"dec2":9.1,"f":0.16},
{"ra":3.7,"ra2":3.5,"dec":9.1,"dec2":8.9,"f":0.13},{"ra":3.5,"ra2":3.3,"dec":9.1,"dec2":8.9,"f":0.13},{"ra":3.3,"ra2":3.1,"dec":9.1,"dec2":8.9,"f":0.13},{"ra":3.1,"ra2":2.9,"dec":9.1,"dec2":8.9,"f":0.14},{"ra":2.9,"ra2":2.7,"dec":9.1,"dec2":8.9,"f":0.14},
{"ra":3.5,"ra2":3.3,"dec":8.9,"dec2":8.7,"f":0.13},{"ra":3.3,"ra2":3.1,"dec":8.9,"dec2":8.7,"f":0.12},{"ra":3.1,"ra2":2.9,"dec":8.9,"dec2":8.7,"f":0.13},
{"ra":3.5,"ra2":3.3,"dec":8.7,"dec2":8.55,"f":0.12},{"ra":3.3,"ra2":3.1,"dec":8.7,"dec2":8.55,"f":0.12},{"ra":3.1,"ra2":2.9,"dec":8.7,"dec2":8.55,"f":0.12}
],
"evpa":[
{"ra":3.21,"ra2":2.95,"dec":10.12,"dec2":9.79},{"ra":3.64,"ra2":3.36,"dec":9.71,"dec2":9.43},{"ra":3.21,"ra2":2.93,"dec":9.71,"dec2":9.41},{"ra":2.81,"ra2":2.57,"dec":9.73,"dec2":9.41},{"ra":3.64,"ra2":3.37,"dec":9.28,"dec2":9.0},{"ra":3.21,"ra2":2.97,"dec":9.28,"dec2":9.0},{"ra":3.64,"ra2":3.37,"dec":8.91,"dec2":8.64},{"ra":3.21,"ra2":2.97,"dec":8.91,"dec2":8.61},
{"ra":-0.354,"ra2":-0.646,"dec":4.26,"dec2":4.50},{"ra":0.011,"ra2":-0.255,"dec":3.83,"dec2":4.08},{"ra":-0.438,"ra2":-0.741,"dec":3.89,"dec2":4.08},{"ra":-0.803,"ra2":-1.048,"dec":3.99,"dec2":4.14},{"ra":-0.354,"ra2":-0.646,"dec":3.49,"dec2":3.65},{"ra":-0.719,"ra2":-1.048,"dec":3.59,"dec2":3.75},{"ra":-0.683,"ra2":-1.084,"dec":3.10,"dec2":3.19},
{"ra":-0.318,"ra2":-0.683,"dec":2.73,"dec2":2.76},{"ra":-0.719,"ra2":-1.084,"dec":2.76,"dec2":2.80},{"ra":0.474,"ra2":0.135,"dec":2.82,"dec2":2.74},{"ra":0.084,"ra2":-0.281,"dec":2.77,"dec2":2.68},
{"ra":0.90,"ra2":0.474,"dec":2.41,"dec2":2.34},{"ra":0.109,"ra2":-0.318,"dec":2.43,"dec2":2.31},{"ra":-0.318,"ra2":-0.693,"dec":2.37,"dec2":2.37},{"ra":-0.693,"ra2":-1.084,"dec":2.37,"dec2":2.37},
{"ra":0.90,"ra2":0.50,"dec":1.97,"dec2":1.91},{"ra":0.474,"ra2":0.109,"dec":2.01,"dec2":1.89},{"ra":-0.318,"ra2":-0.683,"dec":1.95,"dec2":1.95},{"ra":-0.719,"ra2":-1.084,"dec":1.97,"dec2":1.97},
{"ra":0.90,"ra2":0.537,"dec":1.61,"dec2":1.56},{"ra":0.474,"ra2":0.109,"dec":1.61,"dec2":1.52},{"ra":0.109,"ra2":-0.318,"dec":1.57,"dec2":1.49},{"ra":-0.318,"ra2":-0.683,"dec":1.58,"dec2":1.54},
{"ra":0.90,"ra2":0.573,"dec":1.22,"dec2":1.13},{"ra":0.474,"ra2":0.109,"dec":1.22,"dec2":1.09},{"ra":0.047,"ra2":-0.318,"dec":1.22,"dec2":1.09},{"ra":-0.318,"ra2":-0.683,"dec":1.19,"dec2":1.12},
{"ra":0.865,"ra2":0.537,"dec":0.85,"dec2":0.67},{"ra":0.474,"ra2":0.109,"dec":0.85,"dec2":0.67},{"ra":0.047,"ra2":-0.318,"dec":0.81,"dec2":0.67},{"ra":-0.318,"ra2":-0.683,"dec":0.77,"dec2":0.67},
{"ra":0.865,"ra2":0.537,"dec":0.49,"dec2":0.30},{"ra":0.474,"ra2":0.109,"dec":0.49,"dec2":0.30},{"ra":0.047,"ra2":-0.318,"dec":0.43,"dec2":0.30},{"ra":-0.318,"ra2":-0.683,"dec":0.43,"dec2":0.28},
{"ra":0.865,"ra2":0.537,"dec":0.08,"dec2":-0.12},{"ra":0.474,"ra2":0.109,"dec":0.08,"dec2":-0.12},{"ra":0.084,"ra2":-0.281,"dec":0.04,"dec2":-0.12},{"ra":-0.318,"ra2":-0.683,"dec":0,"dec2":-0.10},
{"ra":0.474,"ra2":0.109,"dec":-0.37,"dec2":-0.55},{"ra":0.084,"ra2":-0.281,"dec":-0.34,"dec2":-0.52},
{"ra":0.412,"ra2":0.109,"dec":-0.73,"dec2":-0.88},{"ra":0.047,"ra2":-0.281,"dec":-0.73,"dec2":-0.88}
],
"beam":[
{"ra":11.57,"lo":-3.65,"hi":-3.65},{"ra":11.56,"lo":-3.80,"hi":-3.50},{"ra":11.54,"lo":-3.91,"hi":-3.39},{"ra":11.5,"lo":-4.03,"hi":-3.27},{"ra":11.4,"lo":-4.19,"hi":-3.11},{"ra":11.27,"lo":-4.25,"hi":-3.05},{"ra":11.14,"lo":-4.19,"hi":-3.11},{"ra":11.04,"lo":-4.03,"hi":-3.27},{"ra":11.0,"lo":-3.91,"hi":-3.39},{"ra":10.98,"lo":-3.80,"hi":-3.50},{"ra":10.97,"lo":-3.65,"hi":-3.65}
],
"labelsMain":[
{"ra":12.04,"dec":14.6,"t":"1551+130, 2009-06-03, VLBA 15.4 GHz"},{"ra":12.04,"dec":13.80,"t":"MOJAVE Program"}
],
"hdrItalic":[
{"ra":12.23,"dec":16.68,"t":"I"},{"ra":10.83,"dec":16.68,"t":"P"},{"ra":4.85,"dec":16.68,"t":"I"},{"ra":3.33,"dec":16.68,"t":"P"},{"ra":12.23,"dec":15.91,"t":"I"},{"ra":0.15,"dec":15.91,"t":"I"},{"ra":-0.35,"dec":15.91,"t":"P"}
],
"hdrSub":[
{"ra":12.08,"dec":16.58,"t":"peak"},{"ra":10.51,"dec":16.58,"t":"peak"},{"ra":4.71,"dec":16.58,"t":"noise"},{"ra":3.03,"dec":16.58,"t":"noise"},{"ra":12.08,"dec":15.81,"t":"cont"}
],
"hdrPlain":[
{"ra":11.13,"dec":16.68,"t":","},{"ra":9.37,"dec":16.68,"t":"= 406.1, 7.8 and"},{"ra":3.72,"dec":16.68,"t":","},{"ra":1.84,"dec":16.68,"t":"= 0.26, 0.21 mJy/bm"},{"ra":11.10,"dec":15.91,"t":"= 0.79 [x2.0 steps] mJy/bm, Frac. Pol. for"},{"ra":-0.02,"dec":15.91,"t":","},{"ra":-0.83,"dec":15.91,"t":"≥"},{"ra":-1.82,"dec":15.91,"t":"1.32, 1.03 mJy/bm"}
],
"bar":[
{"v":0,"w":0.005},{"v":0.005,"w":0.01},{"v":0.01,"w":0.015},{"v":0.015,"w":0.02},{"v":0.02,"w":0.025},{"v":0.025,"w":0.03},{"v":0.03,"w":0.035},{"v":0.035,"w":0.04},{"v":0.04,"w":0.045},{"v":0.045,"w":0.05},{"v":0.05,"w":0.055},{"v":0.055,"w":0.06},{"v":0.06,"w":0.065},{"v":0.065,"w":0.07},{"v":0.07,"w":0.075},{"v":0.075,"w":0.08},{"v":0.08,"w":0.085},{"v":0.085,"w":0.09},{"v":0.09,"w":0.095},{"v":0.095,"w":0.1},{"v":0.1,"w":0.105},{"v":0.105,"w":0.11},{"v":0.11,"w":0.115},{"v":0.115,"w":0.12},{"v":0.12,"w":0.125},{"v":0.125,"w":0.13},{"v":0.13,"w":0.135},{"v":0.135,"w":0.14},{"v":0.14,"w":0.145},{"v":0.145,"w":0.15},{"v":0.15,"w":0.155},{"v":0.155,"w":0.16},{"v":0.16,"w":0.165},{"v":0.165,"w":0.17},{"v":0.17,"w":0.175},{"v":0.175,"w":0.18},{"v":0.18,"w":0.185},{"v":0.185,"w":0.19},{"v":0.19,"w":0.195},{"v":0.195,"w":0.2},{"v":0.2,"w":0.205},{"v":0.205,"w":0.21},{"v":0.21,"w":0.215},{"v":0.215,"w":0.22},{"v":0.22,"w":0.225},{"v":0.225,"w":0.23},{"v":0.23,"w":0.235},{"v":0.235,"w":0.24},{"v":0.24,"w":0.245},{"v":0.245,"w":0.25},{"v":0.25,"w":0.255},{"v":0.255,"w":0.26},{"v":0.26,"w":0.265},{"v":0.265,"w":0.27},{"v":0.27,"w":0.275},{"v":0.275,"w":0.28},{"v":0.28,"w":0.285},{"v":0.285,"w":0.29},{"v":0.29,"w":0.295},{"v":0.295,"w":0.3},{"v":0.3,"w":0.305},{"v":0.305,"w":0.31},{"v":0.31,"w":0.315},{"v":0.315,"w":0.32},{"v":0.32,"w":0.325},{"v":0.325,"w":0.33},{"v":0.33,"w":0.335},{"v":0.335,"w":0.34},{"v":0.34,"w":0.345},{"v":0.345,"w":0.35},{"v":0.35,"w":0.355},{"v":0.355,"w":0.36},{"v":0.36,"w":0.365},{"v":0.365,"w":0.37},{"v":0.37,"w":0.375},{"v":0.375,"w":0.38},{"v":0.38,"w":0.385},{"v":0.385,"w":0.39},{"v":0.39,"w":0.395},{"v":0.395,"w":0.4},
{"v":0.4,"w":0.41},{"v":0.41,"w":0.42},{"v":0.42,"w":0.43},{"v":0.43,"w":0.44},{"v":0.44,"w":0.45},{"v":0.45,"w":0.46},{"v":0.46,"w":0.47},{"v":0.47,"w":0.48},{"v":0.48,"w":0.49},{"v":0.49,"w":0.5},{"v":0.5,"w":0.51},{"v":0.51,"w":0.52},{"v":0.52,"w":0.53},{"v":0.53,"w":0.54},{"v":0.54,"w":0.55},{"v":0.55,"w":0.56},{"v":0.56,"w":0.57},{"v":0.57,"w":0.58},{"v":0.58,"w":0.59},{"v":0.59,"w":0.6},{"v":0.6,"w":0.61},{"v":0.61,"w":0.62},{"v":0.62,"w":0.63},{"v":0.63,"w":0.64},{"v":0.64,"w":0.65},{"v":0.65,"w":0.66},{"v":0.66,"w":0.67},{"v":0.67,"w":0.68},{"v":0.68,"w":0.69},{"v":0.69,"w":0.7},{"v":0.7,"w":0.71},{"v":0.71,"w":0.72},{"v":0.72,"w":0.73},{"v":0.73,"w":0.74},{"v":0.74,"w":0.75},{"v":0.75,"w":0.76},{"v":0.76,"w":0.77},{"v":0.77,"w":0.78},{"v":0.78,"w":0.79}
]
},
"hconcat":[
{
"width":573,"height":562,
"resolve":{"axis":{"x":"independent","y":"independent"}},
"layer":[
{"data":{"name":"cells"},"mark":{"type":"rect","strokeWidth":1,"opacity":1},
 "encoding":{
  "x":{"field":"ra","type":"quantitative","scale":{"domain":[12.48,-8.43],"nice":false,"zero":false},"axis":{"orient":"bottom","values":[10,5,0,-5],"title":"Relative RA [mas]","labelFontSize":20.8,"titleFontSize":20.8,"titleFontWeight":"normal","tickSize":-7,"tickWidth":1.5,"tickColor":"#111","labelPadding":14,"titlePadding":13,"labelExpr":"replace(format(datum.value,'d'),'-','−')"}},
  "x2":{"field":"ra2"},
  "y":{"field":"dec","type":"quantitative","scale":{"domain":[-4.89,15.62],"nice":false,"zero":false},"axis":{"orient":"left","values":[15,10,5,0],"title":"Relative Dec [mas]","labelFontSize":20.8,"titleFontSize":20.8,"titleFontWeight":"normal","tickSize":-7,"tickWidth":1.5,"tickColor":"#111","labelPadding":14,"titlePadding":13,"format":"d"}},
  "y2":{"field":"dec2"},
  "color":{"field":"f","type":"quantitative","legend":null,"scale":{"domain":[0,0.05,0.1,0.15,0.2,0.25,0.3,0.35,0.4,0.5,0.6,0.7,0.79],"range":["#84ff24","#50f078","#22dcb0","#08d0d0","#40b0e8","#6c94ff","#9c6cf8","#b040e0","#c000b0","#c00890","#b81060","#b01038","#a80808"]}},
  "stroke":{"field":"f","type":"quantitative","legend":null,"scale":{"domain":[0,0.05,0.1,0.15,0.2,0.25,0.3,0.35,0.4,0.5,0.6,0.7,0.79],"range":["#84ff24","#50f078","#22dcb0","#08d0d0","#40b0e8","#6c94ff","#9c6cf8","#b040e0","#c000b0","#c00890","#b81060","#b01038","#a80808"]}}
 }},
{"data":{"name":"contours"},"mark":{"type":"line","interpolate":"cardinal-closed","stroke":"#484848","strokeWidth":1.5},
 "encoding":{
  "x":{"field":"ra","type":"quantitative","scale":{"domain":[12.48,-8.43],"nice":false,"zero":false},"axis":{"orient":"top","values":[10,5,0,-5],"labels":false,"title":null,"tickSize":-7,"tickWidth":1.5,"tickColor":"#111"}},
  "y":{"field":"dec","type":"quantitative","scale":{"domain":[-4.89,15.62],"nice":false,"zero":false},"axis":{"orient":"right","values":[15,10,5,0],"labels":false,"title":null,"tickSize":-7,"tickWidth":1.5,"tickColor":"#111"}},
  "detail":{"field":"k"},"order":{"field":"i","type":"quantitative"}
 }},
{"data":{"name":"negative"},"mark":{"type":"line","interpolate":"cardinal-closed","stroke":"#484848","strokeWidth":1.5,"strokeDash":[4,2.5]},
 "encoding":{
  "x":{"field":"ra","type":"quantitative","axis":null},
  "y":{"field":"dec","type":"quantitative","axis":null},
  "detail":{"field":"k"},"order":{"field":"i","type":"quantitative"}
 }},
{"data":{"name":"evpa"},"mark":{"type":"rule","stroke":"#000","strokeWidth":2.2},
 "encoding":{
  "x":{"field":"ra","type":"quantitative","axis":null},"x2":{"field":"ra2"},
  "y":{"field":"dec","type":"quantitative","axis":null},"y2":{"field":"dec2"}
 }},
{"data":{"name":"beam"},"mark":{"type":"area","interpolate":"monotone","fill":"#808080"},
 "encoding":{
  "x":{"field":"ra","type":"quantitative","axis":null},
  "y":{"field":"lo","type":"quantitative","axis":null},"y2":{"field":"hi"}
 }},
{"data":{"name":"labelsMain"},"mark":{"type":"text","align":"left","baseline":"alphabetic","fontSize":20.8,"font":"DejaVu Sans","color":"#000"},
 "encoding":{"x":{"field":"ra","type":"quantitative","axis":null},"y":{"field":"dec","type":"quantitative","axis":null},"text":{"field":"t"}}},
{"data":{"name":"hdrItalic"},"mark":{"type":"text","align":"left","baseline":"alphabetic","fontSize":14.2,"fontStyle":"italic","font":"DejaVu Sans","color":"#000"},
 "encoding":{"x":{"field":"ra","type":"quantitative","axis":null},"y":{"field":"dec","type":"quantitative","axis":null},"text":{"field":"t"}}},
{"data":{"name":"hdrSub"},"mark":{"type":"text","align":"left","baseline":"alphabetic","fontSize":10,"fontStyle":"italic","font":"DejaVu Sans","color":"#000"},
 "encoding":{"x":{"field":"ra","type":"quantitative","axis":null},"y":{"field":"dec","type":"quantitative","axis":null},"text":{"field":"t"}}},
{"data":{"name":"hdrPlain"},"mark":{"type":"text","align":"left","baseline":"alphabetic","fontSize":14.2,"font":"DejaVu Sans","color":"#000"},
 "encoding":{"x":{"field":"ra","type":"quantitative","axis":null},"y":{"field":"dec","type":"quantitative","axis":null},"text":{"field":"t"}}}
]
},
{
"width":28,"height":562,
"layer":[
{"data":{"name":"bar"},"mark":{"type":"rect","strokeWidth":1.2,"opacity":1},
 "encoding":{
  "y":{"field":"v","type":"quantitative","scale":{"domain":[0,0.4,0.5,0.6,0.7,0.79],"range":[562,120,82,50,24,0],"nice":false,"zero":false},"axis":{"orient":"right","values":[0,0.05,0.1,0.15,0.2,0.25,0.3,0.35,0.4,0.5,0.6,0.7],"labelExpr":"indexof([0.05,0.15,0.25,0.35],datum.value)>=0?'':format(datum.value,'.1f')","title":"Fractional Linear Polarization","titleFontSize":14.4,"titleFontWeight":"normal","titleAngle":270,"titleX":52,"titleY":281,"titleAlign":"center","titleBaseline":"middle","labelFontSize":14.2,"tickSize":7,"tickWidth":1.5,"tickColor":"#111","labelPadding":7}},
  "y2":{"field":"w"},
  "color":{"field":"v","type":"quantitative","legend":null,"scale":{"domain":[0,0.05,0.1,0.15,0.2,0.25,0.3,0.35,0.4,0.5,0.6,0.7,0.79],"range":["#84ff24","#50f078","#22dcb0","#08d0d0","#40b0e8","#6c94ff","#9c6cf8","#b040e0","#c000b0","#c00890","#b81060","#b01038","#a80808"]}},
  "stroke":{"field":"v","type":"quantitative","legend":null,"scale":{"domain":[0,0.05,0.1,0.15,0.2,0.25,0.3,0.35,0.4,0.5,0.6,0.7,0.79],"range":["#84ff24","#50f078","#22dcb0","#08d0d0","#40b0e8","#6c94ff","#9c6cf8","#b040e0","#c000b0","#c00890","#b81060","#b01038","#a80808"]}}
 }},
{"data":{"values":[{"v":0,"w":0.79}]},"mark":{"type":"rect","fill":null,"stroke":"#111","strokeWidth":1.5},
 "encoding":{"y":{"field":"v","type":"quantitative"},"y2":{"field":"w"}}}
]
}
],
"spacing":4
}
